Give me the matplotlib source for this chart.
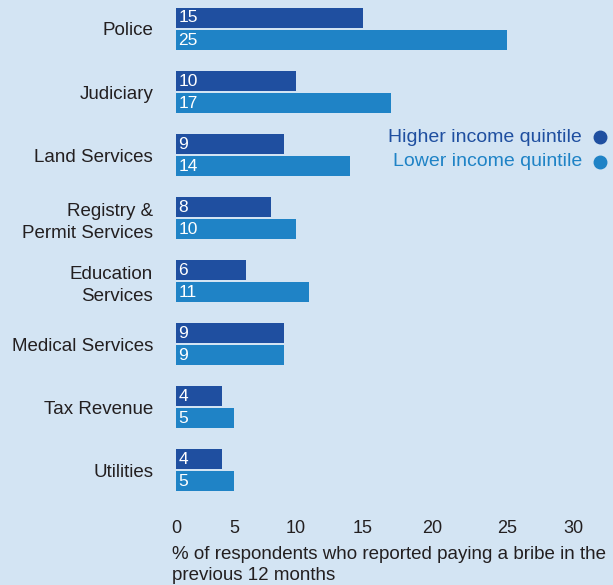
import matplotlib.pyplot as plt
from matplotlib.lines import Line2D
import numpy as np

plt.rcParams['font.family'] = ['Liberation Sans', 'DejaVu Sans']

categories = ["Police", "Judiciary", "Land Services", "Registry &\nPermit Services",
              "Education\nServices", "Medical Services", "Tax Revenue", "Utilities"]
higher = [15, 10, 9, 8, 6, 9, 4, 4]
lower = [25, 17, 14, 10, 11, 9, 5, 5]
xticks = [0, 5, 10, 15, 20, 25, 30]
# the printed axis is not evenly spaced: where each tick sits along it (px)
tick_px = [0, 58, 120, 187, 256, 331, 397]

bg = "#d3e4f3"
dark = "#1f4fa0"
light = "#1f83c6"
txt = "#231f20"


def fwd(v):
    return np.interp(v, xticks, tick_px)


def inv(p):
    return np.interp(p, tick_px, xticks)


fig = plt.figure(figsize=(6.13, 5.85), dpi=100, facecolor=bg)
ax = fig.add_axes([176 / 613, 75 / 585, 397 / 613, 510 / 585])
ax.set_facecolor(bg)
ax.set_xscale("function", functions=(fwd, inv))

y = np.arange(len(categories))
h = 0.32
off = 0.175
ax.barh(y - off, higher, height=h, color=dark)
ax.barh(y + off, lower, height=h, color=light)

for i in range(len(categories)):
    ax.text(0.2, y[i] - off, str(higher[i]), color="white", fontsize=12.5, va="center", ha="left")
    ax.text(0.2, y[i] + off, str(lower[i]), color="white", fontsize=12.5, va="center", ha="left")

ax.set_xlim(0, 30)
ax.set_ylim(7.63, -0.46)
ax.set_xticks(xticks)
ax.set_xticklabels([str(t) for t in xticks], fontsize=13, color=txt)
ax.minorticks_off()
ax.set_yticks(y)
ax.set_yticklabels(categories, fontsize=13.5, color=txt, linespacing=1.4)
ax.tick_params(axis="both", length=0)
ax.tick_params(axis="x", pad=7.5)
ax.tick_params(axis="y", pad=16.5)
for s in ax.spines.values():
    s.set_visible(False)

fig.text(172 / 613, 1 - 565 / 585, "% of respondents who reported paying a bribe in the\nprevious 12 months",
         fontsize=13.5, color=txt, ha="left", va="center", linespacing=1.3)

fig.text(582 / 613, 1 - 137 / 585, "Higher income quintile", color=dark, fontsize=14, ha="right", va="center")
fig.text(582 / 613, 1 - 162 / 585, "Lower income quintile", color=light, fontsize=14, ha="right", va="center")
fig.add_artist(Line2D([600 / 613], [1 - 137 / 585], transform=fig.transFigure, marker="o",
                      markersize=9, color=dark, linestyle="none"))
fig.add_artist(Line2D([600 / 613], [1 - 162 / 585], transform=fig.transFigure, marker="o",
                      markersize=9, color=light, linestyle="none"))

fig.savefig("out.png", facecolor=bg)
